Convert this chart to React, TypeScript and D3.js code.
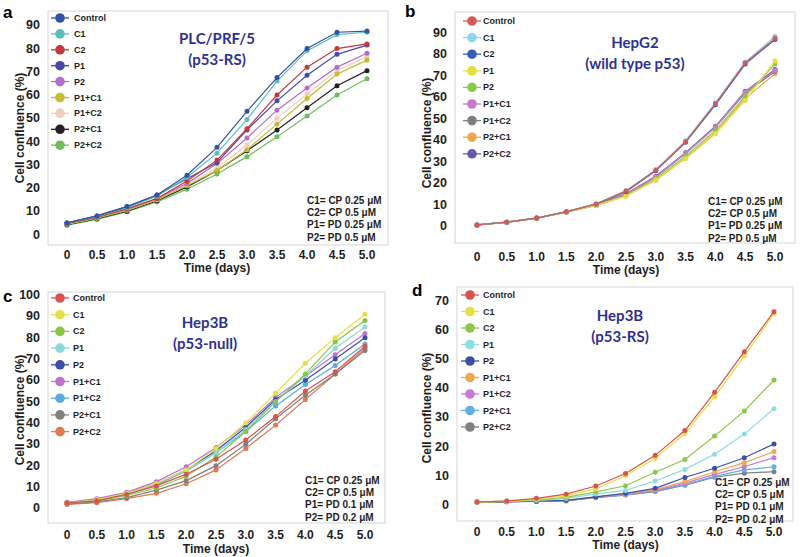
import React from 'react';
import * as d3 from 'd3';

// ---------- DATA ----------
const days = [0, 0.5, 1.0, 1.5, 2.0, 2.5, 3.0, 3.5, 4.0, 4.5, 5.0];
const xTickLabels = ['0', '0.5', '1.0', '1.5', '2.0', '2.5', '3.0', '3.5', '4.0', '4.5', '5.0'];
const seriesNames = ['Control', 'C1', 'C2', 'P1', 'P2', 'P1+C1', 'P1+C2', 'P2+C1', 'P2+C2'];

const panelAValues = [
  [5, 8, 12, 17, 25.5, 37.5, 53, 67.5, 80, 87, 87.5],
  [5, 7.8, 11.5, 16.5, 24.5, 35, 49.5, 66, 79, 86, 87],
  [4.8, 7.5, 11, 15.5, 23, 32, 45.5, 60, 72, 80, 82],
  [5, 8, 12, 17, 24, 31, 45, 57.5, 68.5, 77.5, 81.5],
  [4.8, 7.5, 11, 15.5, 22, 30.5, 41.5, 53.5, 63, 72, 78],
  [4.5, 7, 10.5, 15, 21, 27.5, 36.5, 47.5, 58.5, 69, 75],
  [4.5, 7.2, 10.5, 15, 21.5, 28.5, 38.5, 50, 60.5, 70.5, 76.5],
  [4.2, 6.8, 10, 14.5, 20.5, 27.5, 36, 45, 54.5, 64, 70.5],
  [4, 6.5, 9.8, 14, 19.5, 26, 33.5, 42, 51, 60, 67],
];
const panelBValues = [
  [0.5, 1.8, 3.7, 6.7, 10.3, 16.3, 26, 39.3, 57, 76, 87.5],
  [0.5, 1.8, 3.7, 6.7, 10.3, 16.5, 26.3, 39.8, 57.5, 76.5, 88.5],
  [0.5, 1.8, 3.7, 6.7, 10.2, 16, 25.8, 39, 56.5, 75.5, 87],
  [0.5, 1.7, 3.6, 6.5, 9.6, 14, 21.5, 31.5, 43, 58.5, 77],
  [0.5, 1.7, 3.6, 6.5, 9.7, 14.3, 22, 32.5, 44.5, 60.5, 75.5],
  [0.5, 1.7, 3.6, 6.6, 9.9, 14.8, 23, 34, 46.3, 62.5, 72.5],
  [0.5, 1.7, 3.6, 6.6, 9.9, 14.6, 22.8, 33.8, 46, 62, 72],
  [0.5, 1.7, 3.5, 6.4, 9.5, 14, 21.3, 31.6, 43.5, 59.5, 71],
  [0.5, 1.8, 3.7, 6.7, 10, 15, 23.2, 34.2, 46.5, 62.8, 73],
];
const panelCValues = [
  [2.5, 3.5, 6.5, 10.5, 16, 23, 32, 43, 55, 64, 76],
  [2.5, 4, 7, 11.5, 18, 28, 40, 54, 68, 80, 91],
  [2.5, 3.5, 6, 9.5, 15, 24, 36, 50, 63, 78, 88],
  [2.5, 4, 7, 11.5, 18, 26, 37, 50, 62, 75, 85],
  [2.5, 4, 7, 11.5, 18, 27, 38, 51, 60, 70, 80],
  [2.8, 4.5, 7.5, 12.5, 19.5, 28.5, 39, 52, 62, 72, 82],
  [2.5, 4, 7, 11, 17.5, 26, 36, 48, 58, 67, 77],
  [2, 3, 5, 8.5, 13, 20, 30, 42, 53, 63, 74],
  [1.8, 2.6, 4.5, 7, 11.5, 18, 28, 39, 51, 63, 75],
];
const panelDValues = [
  [1, 1.4, 2.3, 3.7, 6.5, 10.8, 17, 25.5, 38.6, 52.5, 66.2],
  [1, 1.3, 2, 3.1, 5.5, 10, 16, 24.5, 37, 51, 65.5],
  [1, 1.2, 1.8, 2.6, 4.5, 6.6, 11.2, 15.6, 23.6, 32.2, 42.8],
  [1, 1.2, 1.6, 2.2, 3.8, 5, 8.2, 12.2, 17.4, 24.3, 33],
  [1, 1.1, 1.3, 1.6, 2.8, 4, 5.7, 9.4, 12.6, 16.2, 20.9],
  [1, 1.1, 1.3, 1.6, 2.8, 3.8, 5.3, 8, 11.4, 14.5, 18.3],
  [1, 1.1, 1.3, 1.5, 2.7, 3.6, 5, 7.5, 10.5, 13.1, 16.2],
  [1, 1.1, 1.3, 1.5, 2.6, 3.5, 4.8, 7, 9.8, 12, 13.1],
  [1, 1.1, 1.2, 1.4, 2.5, 3.4, 4.6, 6.8, 9.5, 10.9, 11.4],
];

const panelAColors = ['#3152a6', '#5dbdbd', '#c23a3a', '#4848a8', '#b56fc6', '#c4bc2e', '#f3cdbd', '#222222', '#6cbf5a'];
const panelBColors = ['#d25a5a', '#8ed6e6', '#3d5cb8', '#e6df3c', '#8cc850', '#c97ac9', '#808080', '#f0a84e', '#6658aa'];
const panelCColors = ['#d9534f', '#e6df46', '#86c840', '#8cd8dc', '#3a50a8', '#c070d0', '#5aaae0', '#808080', '#e07a50'];
const panelDColors = ['#d9534f', '#e6df46', '#8cc850', '#90dce0', '#3a50a8', '#f0a84e', '#c878d8', '#60b0e0', '#808080'];

const panelATicks = [0, 10, 20, 30, 40, 50, 60, 70, 80, 90];
const panelBTicks = [0, 10, 20, 30, 40, 50, 60, 70, 80, 90];
const panelCTicks = [0, 10, 20, 30, 40, 50, 60, 70, 80, 90, 100];
const panelDTicks = [0, 10, 20, 30, 40, 50, 60, 70];

const panelATitle = ['PLC/PRF/5', '(p53-RS)'];
const panelBTitle = ['HepG2', '(wild type p53)'];
const panelCTitle = ['Hep3B', '(p53-null)'];
const panelDTitle = ['Hep3B', '(p53-RS)'];

const noteAB = ['C1= CP 0.25 μM', 'C2= CP 0.5 μM', 'P1= PD 0.25 μM', 'P2= PD 0.5 μM'];
const noteCD = ['C1= CP 0.25 μM', 'C2= CP 0.5 μM', 'P1= PD 0.1 μM', 'P2= PD 0.2 μM'];

// ---------- LAYOUT ----------
interface PanelCfg {
  letter: string;
  letterX: number; letterY: number;
  frame: [number, number, number, number];
  xRange: [number, number];
  yDomainMax: number;
  yRange: [number, number];
  ticks: number[];
  values: number[][];
  colors: string[];
  title: string[];
  titleX: number; titleY: number;
  note: string[];
  noteX: number; noteY: number;
  legX: number; legTextX: number; legY: number; legStep: number;
  yLabelX: number; yLabelY: number;
  xTickY: number; xTitleY: number;
}

const panels: PanelCfg[] = [
  {
    letter: 'a', letterX: 3, letterY: 12,
    frame: [48, 11, 388, 245], xRange: [67, 367], yDomainMax: 90, yRange: [234.5, 25.3],
    ticks: panelATicks, values: panelAValues, colors: panelAColors,
    title: panelATitle, titleX: 217, titleY: 38,
    note: noteAB, noteX: 307, noteY: 200,
    legX: 60, legTextX: 74, legY: 18, legStep: 15.9,
    yLabelX: 20, yLabelY: 128, xTickY: 255, xTitleY: 268,
  },
  {
    letter: 'b', letterX: 405, letterY: 11,
    frame: [455, 12, 795, 243], xRange: [477, 775], yDomainMax: 90, yRange: [226, 33],
    ticks: panelBTicks, values: panelBValues, colors: panelBColors,
    title: panelBTitle, titleX: 635, titleY: 42,
    note: noteAB, noteX: 708, noteY: 201,
    legX: 472, legTextX: 483, legY: 21, legStep: 16.6,
    yLabelX: 427, yLabelY: 133, xTickY: 257, xTitleY: 270,
  },
  {
    letter: 'c', letterX: 3, letterY: 296,
    frame: [48, 292, 385, 523], xRange: [67, 365], yDomainMax: 100, yRange: [508.3, 295],
    ticks: panelCTicks, values: panelCValues, colors: panelCColors,
    title: panelCTitle, titleX: 205, titleY: 322,
    note: noteCD, noteX: 305, noteY: 480,
    legX: 60, legTextX: 73, legY: 298, legStep: 16.7,
    yLabelX: 20, yLabelY: 410, xTickY: 535, xTitleY: 549,
  },
  {
    letter: 'd', letterX: 412, letterY: 290,
    frame: [457, 287, 793, 521], xRange: [477, 774], yDomainMax: 70, yRange: [505, 300.6],
    ticks: panelDTicks, values: panelDValues, colors: panelDColors,
    title: panelDTitle, titleX: 620, titleY: 315,
    note: noteCD, noteX: 715, noteY: 482,
    legX: 470, legTextX: 483, legY: 295, legStep: 16.5,
    yLabelX: 427, yLabelY: 408, xTickY: 532, xTitleY: 545,
  },
];

const numFont = '"Liberation Sans", Arial, sans-serif';
const titleFont = 'Lato, "Open Sans", sans-serif';
const titleColor = '#2e3192';
const textColor = '#1e1e1e';

function Panel({ p }: { p: PanelCfg }) {
  const x = d3.scaleLinear().domain([0, 5]).range(p.xRange);
  const y = d3.scaleLinear().domain([0, p.yDomainMax]).range(p.yRange);
  const line = d3.line<number>().x((_, i) => x(days[i])).y((v) => y(v));
  const [fx0, fy0, fx1, fy1] = p.frame;
  const order = p.values.map((_, i) => i).reverse();
  return (
    <g>
      <rect x={fx0} y={fy0} width={fx1 - fx0} height={fy1 - fy0} fill="#fff" stroke="#dcdcdc" strokeWidth={1.2} />
      <text x={p.letterX} y={p.letterY} dominantBaseline="central" fontFamily={numFont} fontWeight="bold" fontSize={17} fill="#000">{p.letter}</text>
      {p.ticks.map((t) => (
        <text key={t} x={fx0 - 8} y={y(t)} textAnchor="end" dominantBaseline="central" fontFamily={numFont} fontWeight="bold" fontSize={12.5} fill={textColor}>{t}</text>
      ))}
      {days.map((d, i) => (
        <text key={d} x={x(d)} y={p.xTickY} textAnchor="middle" dominantBaseline="central" fontFamily={numFont} fontWeight="bold" fontSize={12} fill={textColor}>{xTickLabels[i]}</text>
      ))}
      <text x={(p.xRange[0] + p.xRange[1]) / 2} y={p.xTitleY} textAnchor="middle" dominantBaseline="central" fontFamily={numFont} fontWeight="bold" fontSize={12} fill={textColor}>Time (days)</text>
      <text transform={`translate(${p.yLabelX},${p.yLabelY}) rotate(-90)`} textAnchor="middle" dominantBaseline="central" fontFamily={numFont} fontWeight="bold" fontSize={12} fill={textColor}>Cell confluence (%)</text>
      {order.map((si) => (
        <g key={si}>
          <path d={line(p.values[si]) || ''} fill="none" stroke={p.colors[si]} strokeWidth={1.2} />
          {p.values[si].map((v, i) => (
            <circle key={i} cx={x(days[i])} cy={y(v)} r={2.5} fill={p.colors[si]} />
          ))}
        </g>
      ))}
      {p.title.map((t, i) => (
        <text key={t} x={p.titleX} y={p.titleY + i * 21} textAnchor="middle" dominantBaseline="central" fontFamily={titleFont} fontWeight="bold" fontSize={15} fill={titleColor}>{t}</text>
      ))}
      {p.note.map((t, i) => (
        <text key={t} x={p.noteX} y={p.noteY + i * 12.4} dominantBaseline="central" fontFamily={numFont} fontWeight="bold" fontSize={10} fill={textColor}>{t}</text>
      ))}
      {seriesNames.map((n, i) => {
        const ly = p.legY + i * p.legStep;
        return (
          <g key={n}>
            <line x1={p.legX - 9} x2={p.legX + 9} y1={ly} y2={ly} stroke={p.colors[i]} strokeWidth={1.3} />
            <circle cx={p.legX} cy={ly} r={4.8} fill={p.colors[i]} />
            <text x={p.legTextX} y={ly} dominantBaseline="central" fontFamily={numFont} fontWeight="bold" fontSize={9} fill={textColor}>{n}</text>
          </g>
        );
      })}
    </g>
  );
}

export default function App() {
  return (
    <svg width={800} height={557} style={{ position: 'absolute', left: 0, top: 0, background: '#fff' }}>
      <rect x={0} y={0} width={800} height={557} fill="#fff" />
      {panels.map((p) => (
        <Panel key={p.letter} p={p} />
      ))}
    </svg>
  );
}
